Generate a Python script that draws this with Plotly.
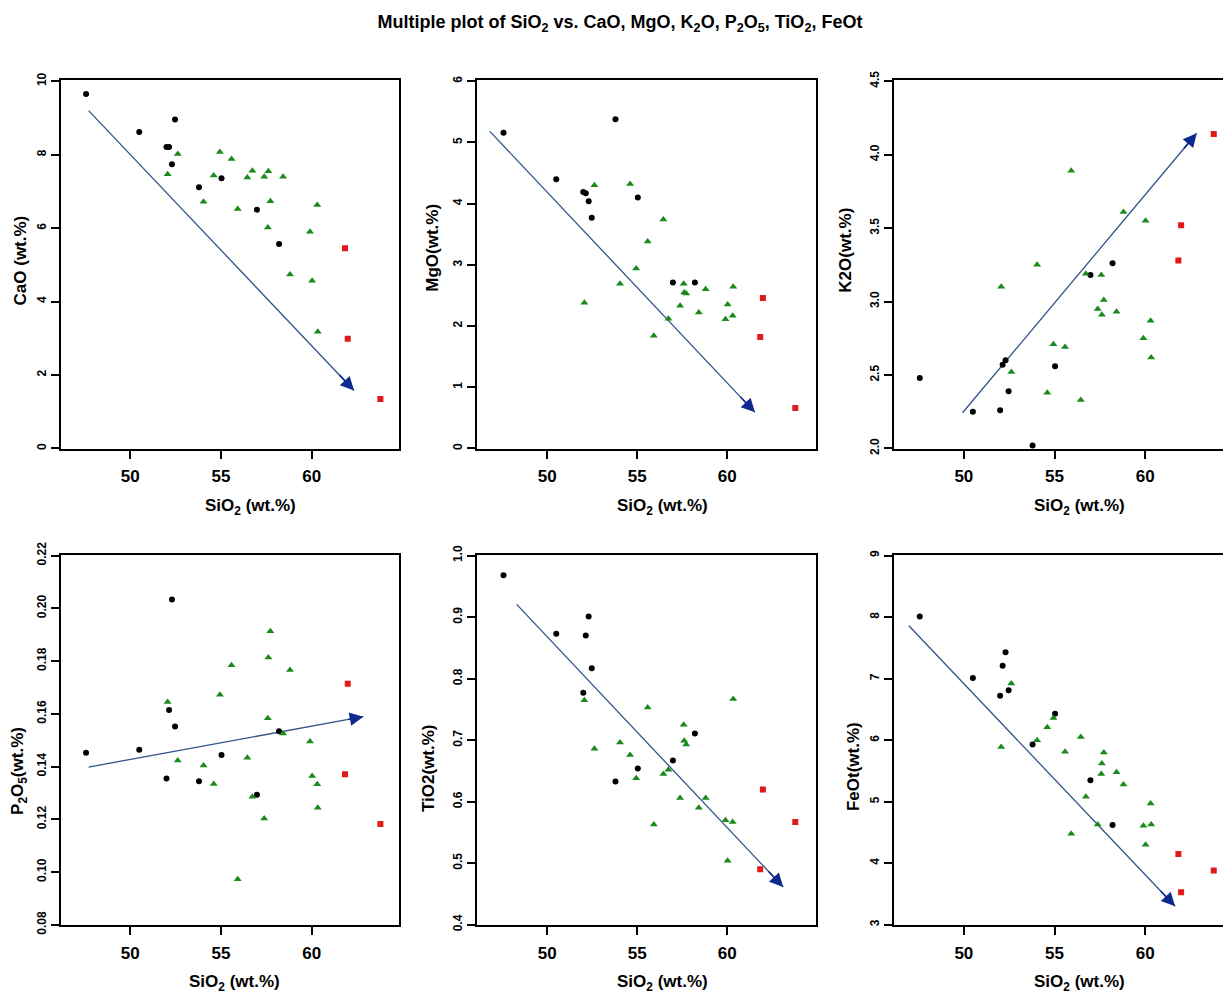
import plotly.graph_objects as go

# ---------------- data ----------------
sio2_black = [47.57, 50.50, 52.00, 52.14, 52.30, 52.47, 53.79, 55.03, 56.98, 58.20]
sio2_green = [52.06, 52.62, 54.04, 54.60, 54.94, 55.58, 55.92, 56.45, 56.73, 57.38,
              57.58, 57.61, 57.72, 58.42, 58.80, 59.90, 60.02, 60.30, 60.33]
sio2_red = [61.83, 61.98, 63.78]

cao_black = [9.65, 8.62, 8.21, 8.21, 7.74, 8.96, 7.11, 7.36, 6.50, 5.57]
cao_green = [7.47, 8.02, 6.72, 7.43, 8.07, 7.88, 6.52, 7.38, 7.56, 7.40,
             6.02, 7.55, 6.73, 7.40, 4.74, 5.90, 4.57, 6.63, 3.18]
cao_red = [5.45, 2.99, 1.35]

mgo_black = [5.16, 4.40, 4.19, 4.17, 4.04, 3.77, 5.38, 4.10, 2.71, 2.71]
mgo_green = [2.38, 4.30, 2.69, 4.32, 2.94, 3.38, 1.84, 3.74, 2.12, 2.33,
             2.69, 2.55, 2.53, 2.22, 2.60, 2.11, 2.35, 2.17, 2.64]
mgo_red = [1.82, 2.46, 0.66]

k2o_black = [2.48, 2.25, 2.26, 2.57, 2.60, 2.39, 2.02, 2.56, 3.18, 3.26]
k2o_green = [3.10, 2.52, 3.25, 2.38, 2.71, 2.69, 3.89, 2.33, 3.19, 2.95,
             3.18, 2.91, 3.01, 2.93, 3.61, 2.75, 3.55, 2.87, 2.62]
k2o_red = [3.28, 3.52, 4.14]

p2o5_black = [0.1452, 0.1464, 0.1355, 0.1614, 0.2033, 0.1552, 0.1344, 0.1444, 0.1293, 0.1534]
p2o5_green = [0.1645, 0.1423, 0.1404, 0.1334, 0.1672, 0.1784, 0.0973, 0.1433, 0.1285, 0.1203,
              0.1583, 0.1813, 0.1913, 0.1525, 0.1766, 0.1495, 0.1364, 0.1333, 0.1244]
p2o5_red = [0.1371, 0.1714, 0.1182]

tio2_black = [0.968, 0.873, 0.777, 0.870, 0.901, 0.817, 0.633, 0.654, 0.667, 0.711]
tio2_green = [0.765, 0.686, 0.696, 0.676, 0.638, 0.753, 0.563, 0.645, 0.652, 0.606,
              0.725, 0.699, 0.693, 0.590, 0.606, 0.570, 0.504, 0.567, 0.767]
tio2_red = [0.490, 0.620, 0.567]

feot_black = [8.01, 7.01, 6.72, 7.21, 7.43, 6.81, 5.93, 6.43, 5.35, 4.62]
feot_green = [5.89, 6.92, 6.00, 6.21, 6.36, 5.81, 4.48, 6.05, 5.08, 4.63,
              5.45, 5.62, 5.80, 5.48, 5.28, 4.61, 4.30, 4.97, 4.63]
feot_red = [4.15, 3.53, 3.88]

# trend arrows (tail -> head) per panel
arrow_x0 = [47.71, 46.81, 49.93, 47.71, 48.30, 46.97]
arrow_y0 = [9.20, 5.18, 2.243, 0.1398, 0.9207, 7.86]
arrow_x1 = [62.33, 61.54, 62.84, 62.84, 63.11, 61.65]
arrow_y1 = [1.58, 0.59, 4.146, 0.1589, 0.4613, 3.30]

y_titles = ["CaO (wt.%)", "MgO(wt.%)", "K2O(wt.%)",
            "P<sub>2</sub>O<sub>5</sub>(wt.%)", "TiO2(wt.%)", "FeOt(wt.%)"]
y_ranges = [[0, 10], [0, 6], [2.0, 4.5], [0.08, 0.22], [0.4, 1.0], [3, 9]]
y_ticks = [[0, 2, 4, 6, 8, 10], [0, 1, 2, 3, 4, 5, 6],
           [2.0, 2.5, 3.0, 3.5, 4.0, 4.5],
           [0.08, 0.10, 0.12, 0.14, 0.16, 0.18, 0.20, 0.22],
           [0.4, 0.5, 0.6, 0.7, 0.8, 0.9, 1.0], [3, 4, 5, 6, 7, 8, 9]]
y_fmt = ["{:.0f}", "{:.0f}", "{:.1f}", "{:.2f}", "{:.1f}", "{:.0f}"]
x_ticks = [50, 55, 60]
x_title = "SiO<sub>2</sub> (wt.%)"

panels = [
    (cao_black, cao_green, cao_red),
    (mgo_black, mgo_green, mgo_red),
    (k2o_black, k2o_green, k2o_red),
    (p2o5_black, p2o5_green, p2o5_red),
    (tio2_black, tio2_green, tio2_red),
    (feot_black, feot_green, feot_red),
]

# ---------------- layout geometry (screen pixels) ----------------
W, H = 1223, 1001
col_px = [(61, 399.3), (476.7, 816), (894, 1223)]
row_px = [(69, 446), (554, 933)]
x_ranges = [[46.19, 64.82], [46.08, 64.93], [46.15, 64.29]]
xtitle_px = [(250, 505), (663, 505), (1079, 505), (234, 992), (663, 992), (1079, 992)]
ytitle_px = [(20, 253), (433, 240), (846, 243), (19, 775), (428, 772), (853, 771)]


def px(v):
    return v / W


def py(v):
    return 1 - v / H


FONT = "Liberation Sans, Arial, sans-serif"
GREEN = "#1b8a1b"
RED = "#e01a1a"
LINE_COL = "#30548a"
HEAD_COL = "#0f2a8f"

fig = go.Figure()
annotations = []
layout_axes = {}

for i, (yb, yg, yr) in enumerate(panels):
    r, c = divmod(i, 3)
    n = i + 1
    xref = "x" if n == 1 else f"x{n}"
    yref = "y" if n == 1 else f"y{n}"
    xa_name = "xaxis" if n == 1 else f"xaxis{n}"
    ya_name = "yaxis" if n == 1 else f"yaxis{n}"

    # trend line (shaft)
    fig.add_trace(go.Scatter(x=[arrow_x0[i], arrow_x1[i]], y=[arrow_y0[i], arrow_y1[i]],
                             mode="lines", line=dict(color=LINE_COL, width=1.3),
                             xaxis=xref, yaxis=yref, hoverinfo="skip"))
    fig.add_trace(go.Scatter(x=sio2_black, y=yb, mode="markers",
                             marker=dict(symbol="circle", size=6, color="black"),
                             xaxis=xref, yaxis=yref))
    fig.add_trace(go.Scatter(x=sio2_green, y=yg, mode="markers",
                             marker=dict(symbol="triangle-up", size=7, color=GREEN),
                             xaxis=xref, yaxis=yref))
    fig.add_trace(go.Scatter(x=sio2_red, y=yr, mode="markers",
                             marker=dict(symbol="square", size=6, color=RED),
                             xaxis=xref, yaxis=yref))

    # arrow head
    fx = arrow_x1[i] - 0.06 * (arrow_x1[i] - arrow_x0[i])
    fy = arrow_y1[i] - 0.06 * (arrow_y1[i] - arrow_y0[i])
    annotations.append(dict(x=arrow_x1[i], y=arrow_y1[i], ax=fx, ay=fy,
                            xref=xref, yref=yref, axref=xref, ayref=yref,
                            showarrow=True, arrowhead=2, arrowsize=1.7, arrowwidth=1.6,
                            arrowcolor=HEAD_COL, text=""))

    x0p, x1p = col_px[c]
    y0p, y1p = row_px[r]
    yr0, yr1 = y_ranges[i]
    eps = (yr1 - yr0) * 0.002
    layout_axes[xa_name] = dict(
        domain=[px(x0p), min(1.0, px(x1p))], range=x_ranges[c], anchor=yref,
        tickmode="array", tickvals=x_ticks, ticktext=[str(v) for v in x_ticks],
        ticks="outside", ticklen=8, tickwidth=1.5, tickcolor="black",
        showline=True, linewidth=1.5, linecolor="black", mirror=True,
        showgrid=False, zeroline=False, ticklabelstandoff=3,
        tickfont=dict(family=FONT, size=17, color="black", weight="bold"),
    )
    layout_axes[ya_name] = dict(
        domain=[py(y1p), py(y0p)], range=[yr0 - eps, yr1 + eps], anchor=xref,
        tickmode="array", tickvals=y_ticks[i],
        ticktext=[y_fmt[i].format(v) for v in y_ticks[i]],
        tickangle=-90, ticks="outside", ticklen=8, tickwidth=1.5, tickcolor="black",
        showline=True, linewidth=1.5, linecolor="black", mirror=(c != 2),
        showgrid=False, zeroline=False,
        tickfont=dict(family=FONT, size=12, color="black", weight="bold"),
    )

    tx, ty = xtitle_px[i]
    annotations.append(dict(x=px(tx), y=py(ty), xref="paper", yref="paper",
                            text=x_title, showarrow=False, xanchor="center", yanchor="middle",
                            font=dict(family=FONT, size=17, color="black", weight="bold")))
    qx, qy = ytitle_px[i]
    annotations.append(dict(x=px(qx), y=py(qy), xref="paper", yref="paper",
                            text=y_titles[i], showarrow=False, textangle=-90,
                            xanchor="center", yanchor="middle",
                            font=dict(family=FONT, size=17, color="black", weight="bold")))

fig.update_layout(
    width=W, height=H, margin=dict(l=0, r=0, t=0, b=0),
    paper_bgcolor="white", plot_bgcolor="white", showlegend=False,
    title=dict(text="Multiple plot of SiO<sub>2</sub> vs. CaO, MgO, K<sub>2</sub>O, "
                    "P<sub>2</sub>O<sub>5</sub>, TiO<sub>2</sub>, FeOt",
               x=px(620), y=py(22), xanchor="center", yanchor="middle",
               font=dict(family=FONT, size=18, color="black", weight="bold")),
    annotations=annotations,
    **layout_axes,
)

# remove the browser's default 8px body margin so figure pixels equal screen pixels
fig.write_html("out.html", config={"displayModeBar": False},
               post_script="document.body.style.margin='0';document.body.style.overflow='hidden';")
